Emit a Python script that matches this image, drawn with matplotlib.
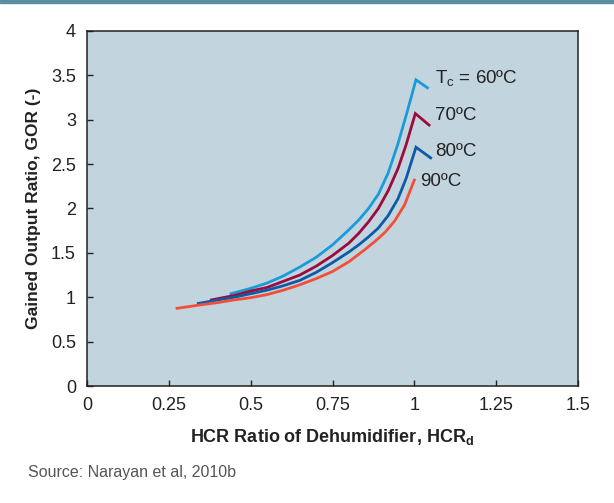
import matplotlib
matplotlib.use("Agg")
import matplotlib.pyplot as plt

# GOR vs. HCR curves for several condenser temperatures
hcr_60 = [0.44, 0.50, 0.55, 0.60, 0.65, 0.70, 0.75, 0.80, 0.83, 0.86, 0.89, 0.92, 0.95, 0.975, 1.005, 1.04]
gor_60 = [1.04, 1.10, 1.16, 1.24, 1.34, 1.45, 1.59, 1.76, 1.87, 2.00, 2.16, 2.40, 2.73, 3.05, 3.45, 3.36]

hcr_70 = [0.38, 0.45, 0.50, 0.55, 0.60, 0.65, 0.70, 0.75, 0.80, 0.83, 0.86, 0.89, 0.92, 0.95, 0.975, 1.003, 1.045]
gor_70 = [0.97, 1.02, 1.07, 1.11, 1.18, 1.25, 1.35, 1.47, 1.61, 1.72, 1.85, 2.00, 2.20, 2.45, 2.72, 3.07, 2.94]

hcr_80 = [0.34, 0.40, 0.45, 0.50, 0.55, 0.60, 0.65, 0.70, 0.75, 0.80, 0.83, 0.86, 0.89, 0.92, 0.95, 0.975, 1.005, 1.05]
gor_80 = [0.93, 0.97, 1.00, 1.04, 1.08, 1.13, 1.19, 1.28, 1.39, 1.51, 1.59, 1.68, 1.78, 1.92, 2.11, 2.34, 2.69, 2.57]

hcr_90 = [0.275, 0.345, 0.40, 0.45, 0.50, 0.55, 0.60, 0.65, 0.70, 0.75, 0.80, 0.85, 0.88, 0.91, 0.94, 0.97, 1.00]
gor_90 = [0.875, 0.913, 0.94, 0.97, 0.995, 1.03, 1.08, 1.14, 1.21, 1.29, 1.40, 1.54, 1.63, 1.73, 1.86, 2.04, 2.32]

series_labels = ["$\\mathregular{T_c}$ = 60ºC", "70ºC", "80ºC", "90ºC"]
label_pos = [(1.063, 3.47), (1.063, 3.05), (1.063, 2.64), (1.017, 2.30)]

x_ticks = [0, 0.25, 0.5, 0.75, 1, 1.25, 1.5]
x_tick_labels = ["0", "0.25", "0.5", "0.75", "1", "1.25", "1.5"]
y_ticks = [0, 0.5, 1, 1.5, 2, 2.5, 3, 3.5, 4]
y_tick_labels = ["0", "0.5", "1", "1.5", "2", "2.5", "3", "3.5", "4"]

colors = ["#1a9bd7", "#9c0b3c", "#0d5aa7", "#f24e39"]

family = "Liberation Sans"
plt.rcParams["font.family"] = [family, "DejaVu Sans"]
plt.rcParams["mathtext.fontset"] = "custom"
plt.rcParams["mathtext.rm"] = family
plt.rcParams["mathtext.bf"] = family + ":bold"

fig = plt.figure(figsize=(6.14, 5.03), dpi=100)
fig.patches.append(plt.Rectangle((0, 0.994), 1, 0.006, transform=fig.transFigure,
                                 color="#5c8ea2", zorder=0))
ax = fig.add_axes([0.1417, 0.2326, 0.7997, 0.7058])
ax.set_facecolor("#c2d5df")

for xs, ys, c in zip([hcr_60, hcr_70, hcr_80, hcr_90],
                     [gor_60, gor_70, gor_80, gor_90], colors):
    ax.plot(xs, ys, color=c, lw=2.0, solid_joinstyle="miter")

for txt, (tx, ty) in zip(series_labels, label_pos):
    ax.text(tx, ty, txt, fontsize=13.5, color="#222222", va="center", ha="left")

ax.set_xlim(0, 1.5)
ax.set_ylim(0, 4)
ax.set_xticks(x_ticks)
ax.set_xticklabels(x_tick_labels)
ax.set_yticks(y_ticks)
ax.set_yticklabels(y_tick_labels)
ax.tick_params(direction="in", length=4, width=1, labelsize=13, colors="#222222",
               pad=8)
for s in ax.spines.values():
    s.set_color("#222222")
    s.set_linewidth(1.1)

ax.set_xlabel("HCR Ratio of Dehumidifier, $\\mathbf{HCR_d}$", fontsize=13,
              fontweight="bold", color="#222222", labelpad=9)
ax.set_ylabel("Gained Output Ratio, GOR (-)", fontsize=12.5, fontweight="bold",
              color="#222222", labelpad=7)

fig.text(0.045, 0.052, "Source: Narayan et al, 2010b", fontsize=11.5, color="#555555")

fig.savefig("out.png", dpi=100)
